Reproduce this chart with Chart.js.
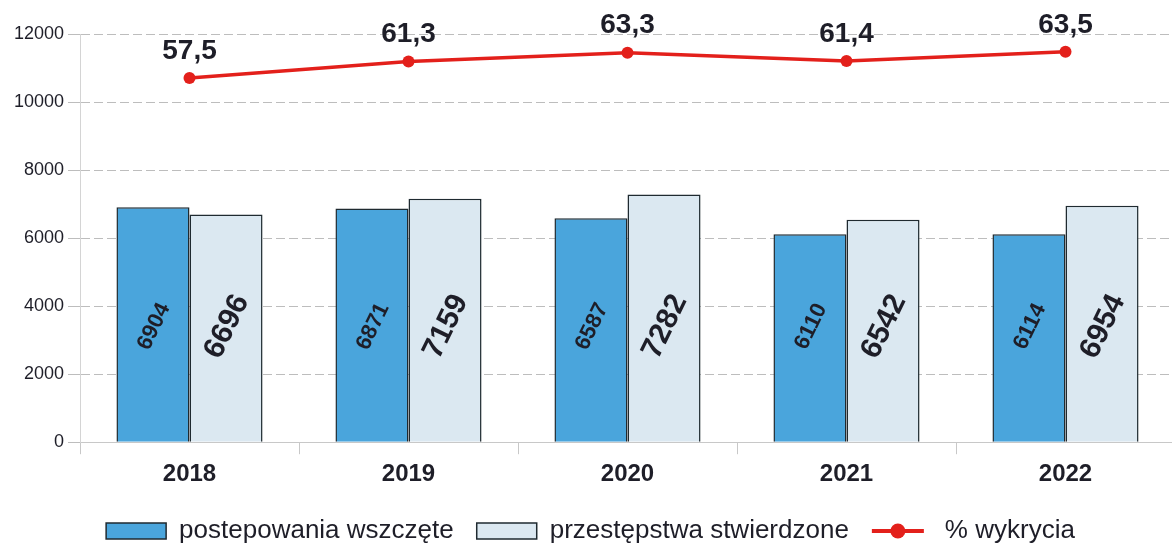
<!DOCTYPE html>
<html>
<head>
<meta charset="utf-8">
<script src="https://cdn.jsdelivr.net/npm/chart.js@4/dist/chart.umd.min.js"></script>
<style>
  html, body { margin: 0; padding: 0; background: #fff; overflow: hidden; }
  #wrap { width: 1172px; height: 545px; overflow: hidden; }
</style>
</head>
<body>
<div id="wrap"><canvas id="wykrywalnoscChart" width="1181" height="554"></canvas></div>
<script>
const years = ['2018', '2019', '2020', '2021', '2022'];
const wszczete = [6904, 6871, 6587, 6110, 6114];
const stwierdzone = [6696, 7159, 7282, 6542, 6954];
const wykrycia = [57.5, 61.3, 63.3, 61.4, 63.5];
const yTicks = [0, 2000, 4000, 6000, 8000, 10000, 12000];

const fontFam = '"Liberation Sans", Arial, sans-serif';
const textColor = '#1e1e28';

// napisy w slupkach i nad linia
const labelsPlugin = {
  id: 'labelsPlugin',
  afterDatasetsDraw(chart) {
    const ctx = chart.ctx;
    const yScale = chart.scales.y;
    ctx.save();
    ctx.fillStyle = textColor;
    ctx.textAlign = 'center';
    ctx.textBaseline = 'middle';
    [0, 1].forEach(di => {
      const meta = chart.getDatasetMeta(di);
      const size = di === 0 ? 22 : 30;
      meta.data.forEach((bar, i) => {
        ctx.save();
        ctx.translate(bar.x + 1, yScale.getPixelForValue(3400));
        ctx.rotate(-64 * Math.PI / 180);
        ctx.font = 'bold ' + size + 'px ' + fontFam;
        ctx.fillText(String(chart.data.datasets[di].data[i]), 0, 0);
        ctx.restore();
      });
    });
    const lineMeta = chart.getDatasetMeta(2);
    ctx.font = 'bold 28px ' + fontFam;
    lineMeta.data.forEach((pt, i) => {
      ctx.fillText(wykrycia[i].toFixed(1).replace('.', ','), pt.x, pt.y - 27);
    });
    ctx.restore();
  },
  afterDraw(chart) {
    // znacznik linii w legendzie
    const boxes = chart.legend.legendHitBoxes;
    const items = chart.legend.legendItems;
    if (!boxes || !items) return;
    const idx = items.findIndex(it => it.datasetIndex === 2);
    if (idx < 0) return;
    const b = boxes[idx];
    const ctx = chart.ctx;
    const cy = b.top + b.height / 2;
    ctx.save();
    ctx.strokeStyle = '#e3201b';
    ctx.lineWidth = 4;
    ctx.beginPath();
    ctx.moveTo(b.left, cy);
    ctx.lineTo(b.left + 52, cy);
    ctx.stroke();
    ctx.fillStyle = '#e3201b';
    ctx.beginPath();
    ctx.arc(b.left + 26, cy, 7.5, 0, Math.PI * 2);
    ctx.fill();
    ctx.restore();
  }
};

new Chart(document.getElementById('wykrywalnoscChart'), {
  data: {
    labels: years,
    datasets: [{
      type: 'bar',
      label: 'postepowania wszczęte',
      data: wszczete,
      backgroundColor: '#4aa5dc',
      borderColor: '#1f2a30',
      borderWidth: 1.5,
      categoryPercentage: 0.667,
      barPercentage: 1,
      order: 2
    }, {
      type: 'bar',
      label: 'przestępstwa stwierdzone',
      data: stwierdzone,
      backgroundColor: '#dbe8f1',
      borderColor: '#1f2a30',
      borderWidth: 1.5,
      categoryPercentage: 0.667,
      barPercentage: 1,
      order: 2
    }, {
      type: 'line',
      label: '% wykrycia',
      data: wykrycia,
      yAxisID: 'y1',
      borderColor: '#e3201b',
      backgroundColor: '#e3201b',
      borderWidth: 3.5,
      pointRadius: 6,
      pointBackgroundColor: '#e3201b',
      pointBorderWidth: 0,
      tension: 0,
      order: 1
    }]
  },
  options: {
    responsive: false,
    animation: false,
    layout: { padding: { top: 34, right: 0, left: 0, bottom: 0 } },
    scales: {
      x: {
        grid: {
          offset: true,
          drawOnChartArea: false,
          tickLength: 12,
          color: '#c8c8c8'
        },
        border: { color: '#c8c8c8' },
        ticks: {
          color: textColor,
          padding: 6,
          font: { family: fontFam, size: 24, weight: 'bold' }
        }
      },
      y: {
        min: 0,
        max: 12000,
        afterBuildTicks: (scale) => { scale.ticks = yTicks.map(v => ({ value: v })); },
        afterFit: (scale) => { scale.width = 80; },
        grid: {
          color: '#bdbdbd',
          tickLength: 12,
          drawTicks: true
        },
        border: { color: '#d4d4d4', dash: [9, 4] },
        ticks: {
          color: textColor,
          padding: 4,
          font: { family: fontFam, size: 18 },
          callback: (v) => String(v)
        }
      },
      y1: {
        display: false,
        min: -26.2,
        max: 67.6
      }
    },
    plugins: {
      legend: {
        position: 'bottom',
        labels: {
          color: textColor,
          boxWidth: 60,
          boxHeight: 16,
          padding: 23,
          font: { family: fontFam, size: 26 },
          sort: (a, b) => a.datasetIndex - b.datasetIndex,
          generateLabels: (chart) => {
            const items = Chart.defaults.plugins.legend.labels.generateLabels(chart);
            items.forEach(it => {
              if (it.datasetIndex === 2) {
                it.fillStyle = 'rgba(0,0,0,0)';
                it.strokeStyle = 'rgba(0,0,0,0)';
                it.lineWidth = 0;
              }
            });
            return items;
          }
        }
      },
      tooltip: { enabled: false }
    }
  },
  plugins: [labelsPlugin]
});
</script>
</body>
</html>
